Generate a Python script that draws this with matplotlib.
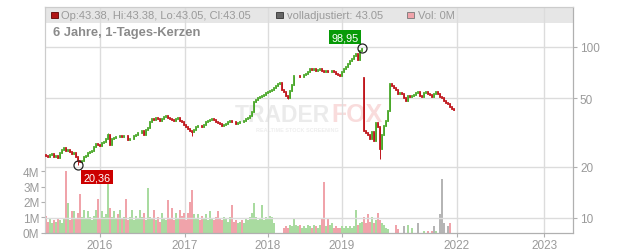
import matplotlib
matplotlib.use("Agg")
import matplotlib.pyplot as plt
from matplotlib.patches import Rectangle

plt.rcParams['font.family'] = ['Liberation Sans', 'DejaVu Sans']

# ---------------- data (one candle per slot, oldest first) ----------------
closes = [
    23.0, 22.8, 23.3, 23.6, 22.6, 22.9, 22.5, 24.0, 24.9, 25.6,
    24.7, 24.9, 24.3, 23.7, 24.0, 22.8, 21.4, 21.2, 21.6, 22.6,
    22.9, 23.9, 24.4, 24.8, 26.0, 27.0, 26.8, 26.5, 27.5, 27.9,
    28.8, 30.5, 26.8, 28.9, 29.4, 29.8, 29.6, 30.0, 29.7, 30.3,
    30.1, 28.6, 28.9, 29.0, 30.0, 30.4, 31.2, 31.6, 32.2, 30.4,
    32.5, 33.6, 36.5, 37.8, 37.6, 38.2, 37.7, 36.9, 38.0, 38.9,
    39.6, 38.5, 37.9, 37.2, 36.7, 37.8, 38.3, 37.0, 36.4, 35.2,
    34.0, 33.0, 32.4, 31.8, 32.6, 34.0, 34.6, 34.4, 33.9, 35.2,
    36.6, 36.9, 37.2, 37.8, 37.5, 36.3, 36.0, 35.4, 34.5, 34.9,
    35.6, 36.4, 37.1, 36.6, 36.2, 35.4, 36.0, 36.5, 36.3, 37.0,
    37.9, 38.6, 39.6, 41.5, 48.0, 49.2, 50.1, 51.0, 51.5, 52.4,
    54.0, 54.9, 55.3, 56.2, 57.5, 58.8, 60.5, 62.0, 56.0, 54.5,
    52.0, 50.5, 55.3, 60.0, 67.4, 67.7, 68.0, 66.8, 67.0, 68.3,
    69.4, 71.8, 74.3, 73.6, 74.3, 72.7, 73.4, 74.6, 72.2, 71.6,
    72.4, 71.2, 71.5, 72.5, 71.0, 69.6, 68.5, 67.5, 71.5, 74.0,
    76.8, 79.3, 82.8, 84.9, 88.0, 90.7, 84.0, 95.0, 98.0, 32.3,
    31.4, 30.6, 29.0, 31.8, 28.3, 36.0, 34.2, 25.2, 30.4, 34.3,
    36.9, 42.5, 60.8, 59.3, 57.4, 55.9, 53.0, 54.0, 53.2, 50.6,
    48.3, 52.0, 51.0, 51.4, 52.6, 53.5, 54.6, 52.0, 51.0, 53.8,
    54.6, 53.1, 52.2, 51.0, 53.3, 54.6, 53.0, 51.3, 50.5, 48.6,
    47.2, 46.3, 44.7, 43.6, 43.05,
]
first_open = 23.3
open_overrides = {159: 66.0}
high_overrides = {31: 31.5, 158: 98.95}
low_overrides = {16: 20.36, 73: 30.0, 121: 49.7, 167: 22.1}

volumes_m = [
    1.1, 0.7, 0.9, 0.6, 0.8, 0.7, 0.9, 0.8, 0.6, 0.9,
    4.0, 1.9, 0.8, 1.4, 1.4, 0.9, 1.3, 2.5, 1.0, 1.5,
    0.9, 1.4, 1.0, 0.8, 1.1, 1.5, 2.2, 0.9, 1.4, 1.0,
    1.2, 3.6, 1.6, 1.0, 1.4, 0.9, 1.2, 1.5, 0.9, 1.0,
    2.2, 0.8, 1.0, 1.5, 0.8, 1.1, 0.9, 1.5, 1.0, 1.3,
    0.8, 2.9, 1.0, 0.9, 1.5, 0.8, 1.0, 0.7, 1.3, 0.9,
    0.8, 2.1, 0.9, 1.6, 0.8, 1.3, 0.9, 1.5, 1.1, 1.3,
    0.8, 1.3, 2.0, 2.8, 1.2, 0.9, 1.2, 0.8, 1.1, 0.9,
    1.2, 0.8, 1.4, 0.9, 0.8, 1.0, 1.4, 0.9, 0.8, 1.0,
    0.9, 0.7, 1.0, 1.8, 0.7, 0.8, 0.6, 0.7, 0.8, 0.6,
    0.9, 0.8, 1.0, 1.3, 1.9, 1.0, 0.8, 0.9, 1.8, 0.8,
    1.0, 0.9, 1.1, 1.0, 0.6, 0.0, 0.0, 0.0, 0.0, 0.3,
    0.4, 0.3, 0.5, 0.4, 0.9, 0.5, 0.4, 0.5, 0.3, 0.4,
    0.3, 0.5, 0.4, 0.3, 0.5, 0.4, 0.3, 0.5, 0.9, 3.3,
    0.4, 0.85, 0.5, 0.6, 0.3, 0.4, 0.3, 0.3, 0.4, 0.3,
    0.4, 0.3, 0.4, 0.3, 0.4, 1.5, 0.5, 0.6, 0.7, 1.0,
    0.6, 1.2, 0.7, 1.0, 0.6, 0.8, 1.3, 0.8, 0.6, 0.5,
    0.3, 0.2, 0.0, 0.0, 0.0, 0.5, 0.2, 0.0, 0.0, 0.4,
    0.0, 0.5, 0.0, 0.3, 0.0, 0.0, 0.6, 0.0, 0.0, 0.1,
    0.0, 0.1, 0.0, 0.1, 0.4, 0.1, 0.0, 1.2, 3.5, 0.6,
    0.0, 0.4, 0.6, 0.0, 0.0,
]
gray_volume_slots = [179, 186, 194, 197, 198, 199, 201]

year_labels = ["2016", "2017", "2018", "2019", "2022", "2023"]
year_slots = [27, 69.5, 111, 148, 205.5, 249]
price_ticks = [10, 20, 50, 100]
vol_ticks = [0, 1, 2, 3, 4]
vol_tick_labels = ["0M", "1M", "2M", "3M", "4M"]

high_label, high_slot = "98,95", 158
low_label, low_slot = "20,36", 16
title = "6 Jahre, 1-Tages-Kerzen"
hdr_ohlc = "Op:43.38, Hi:43.38, Lo:43.05, Cl:43.05"
hdr_adj = "volladjustiert: 43.05"
hdr_vol = "Vol: 0M"

assert len(closes) == len(volumes_m)
n = len(closes)

# ---------------- derived candles ----------------
opens = [first_open] + closes[:-1]
for k, v in open_overrides.items():
    opens[k] = v
highs = [max(o, c) for o, c in zip(opens, closes)]
lows = [min(o, c) for o, c in zip(opens, closes)]
for k, v in high_overrides.items():
    highs[k] = v
for k, v in low_overrides.items():
    lows[k] = v

UP = '#4aa82a'
DOWN = '#c0161c'
VUP = '#a9dba0'
VDOWN = '#f0a3aa'
VGRAY = '#b5b5b5'
TXT = '#9a9a9a'
GRID = '#dcdcdc'
AX = '#b0b0b0'

W, H = 632, 253
fig = plt.figure(figsize=(W / 100, H / 100), dpi=100)
L, R, T, B = 45, 573, 8, 233.5
axv = fig.add_axes([L / W, (H - B) / H, (R - L) / W, (B - T) / H])
axp = axv.twinx()

xs = list(range(n))
# volume
vcols = []
for i in range(n):
    if i in gray_volume_slots:
        vcols.append(VGRAY)
    elif closes[i] >= opens[i]:
        vcols.append(VUP)
    else:
        vcols.append(VDOWN)
axv.bar(xs, volumes_m, width=0.75, color=vcols, linewidth=0, zorder=2)
vpx = 15.3  # px per 1M
axv.set_ylim(0, (B - T) / vpx)
axv.set_xlim(-0.5, (R - L) / 2 - 0.5)

# header band
hdr_frac = 1 - 15.5 / (B - T)
axv.add_patch(Rectangle((0, hdr_frac), 1, 1 - hdr_frac, transform=axv.transAxes,
                        facecolor='#e6e6e6', edgecolor='none', zorder=0.2))

# watermark
axv.text(0.54, 0.525, "TRADER", transform=axv.transAxes, ha='right', va='center',
         fontsize=16.5, fontweight='bold', color='#ebebeb', zorder=0.3)
axv.text(0.543, 0.525, "FOX", transform=axv.transAxes, ha='left', va='center',
         fontsize=18, fontweight='bold', color='#f9dcdc', zorder=0.3)
axv.text(0.40, 0.455, "REALTIME STOCK SCREENING", transform=axv.transAxes, ha='left',
         va='center', fontsize=4, fontweight='bold', color='#eeeeee', zorder=0.3)

# grid and axes styling
axv.set_xticks(year_slots)
axv.set_xticklabels(year_labels)
axv.grid(axis='x', color=GRID, linewidth=1.0, zorder=0.5)
axv.set_axisbelow(True)
axv.set_yticks(vol_ticks)
axv.set_yticklabels(vol_tick_labels)
axv.tick_params(axis='both', colors=AX, labelcolor=TXT, labelsize=8.5, length=3, width=0.8)
axv.tick_params(axis='x', pad=2)
axv.tick_params(axis='y', pad=1)
for s in ['top', 'left']:
    axv.spines[s].set_color('#cccccc')
for s in ['bottom', 'right']:
    axv.spines[s].set_color(AX)

# price candles
axp.set_yscale('log')
ymin = 10 ** (1 - (B - 219) / 171)
ymax = 10 ** (1 + (219 - T) / 171)
axp.set_ylim(ymin, ymax)
axp.set_xlim(axv.get_xlim())
colors = [UP if c >= o else DOWN for o, c in zip(opens, closes)]
axp.vlines(xs, lows, highs, colors=colors, linewidth=0.7, zorder=3)
bodies = axp.vlines(xs, [min(o, c) for o, c in zip(opens, closes)],
                    [max(o, c) for o, c in zip(opens, closes)], colors=colors,
                    linewidth=1.3, zorder=3)
bodies.set_capstyle('projecting')
axp.set_yticks(price_ticks)
axp.set_yticklabels([str(t) for t in price_ticks])
axp.yaxis.set_minor_locator(matplotlib.ticker.NullLocator())
axp.grid(axis='y', color=GRID, linewidth=1.0, zorder=0.5)
axp.tick_params(axis='y', colors=AX, labelcolor=TXT, labelsize=8.5, length=3, width=0.8, pad=2)
for s in ['top', 'left']:
    axp.spines[s].set_color('#cccccc')
for s in ['bottom', 'right']:
    axp.spines[s].set_color(AX)

# extreme markers
axp.plot([high_slot], [highs[high_slot]], 'o', mfc='none', mec='#222222', ms=6.5, mew=0.9, zorder=5)
axp.plot([low_slot], [lows[low_slot]], 'o', mfc='none', mec='#222222', ms=6.5, mew=0.9, zorder=5)
axp.annotate(high_label, (high_slot, highs[high_slot]), xytext=(-17, 10.5),
             textcoords='offset pixels', ha='center', va='center', color='white',
             fontsize=7.8, zorder=6,
             bbox=dict(boxstyle='square,pad=0.18', fc='#079a07', ec='none'))
axp.annotate(low_label, (low_slot, lows[low_slot]), xytext=(19, -12),
             textcoords='offset pixels', ha='center', va='center', color='white',
             fontsize=7.8, zorder=6,
             bbox=dict(boxstyle='square,pad=0.18', fc='#cc0000', ec='none'))

# header texts
def fx(px):
    return px / W
def fy(py):
    return 1 - py / H

hy = 15.8
for sx, fc, ec, txt, tx in [(51, '#b01515', '#600000', hdr_ohlc, 61),
                            (276, '#666666', '#333333', hdr_adj, 287),
                            (407, '#f0a3aa', '#777777', hdr_vol, 418)]:
    fig.patches.append(Rectangle((fx(sx), fy(hy + 3.2)), 6.5 / W, 6.5 / H,
                                 transform=fig.transFigure, facecolor=fc,
                                 edgecolor=ec, linewidth=0.6, zorder=10))
    fig.text(fx(tx), fy(hy), txt, ha='left', va='center', fontsize=8, color=TXT, zorder=10)

fig.text(fx(53), fy(33), title, ha='left', va='center', fontsize=9.3,
         fontweight='bold', color='#8a8a8a', zorder=10)

fig.savefig('out.png', dpi=100)
